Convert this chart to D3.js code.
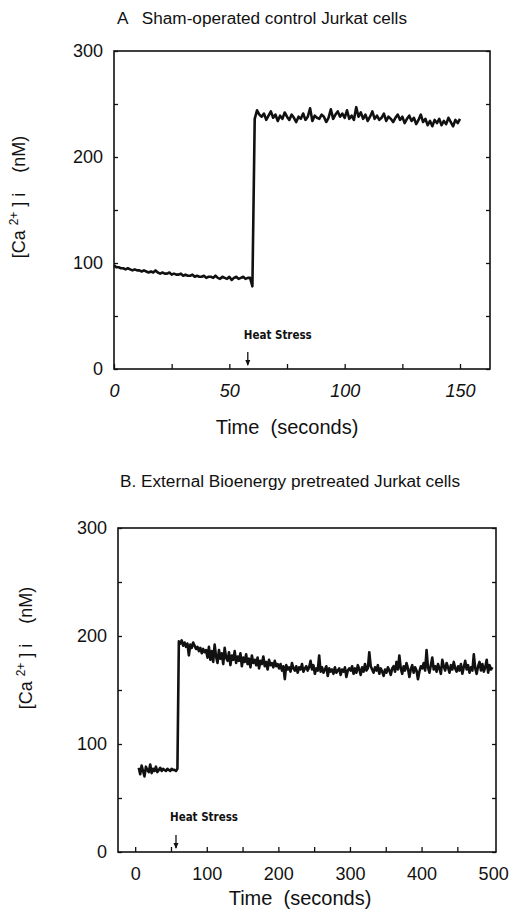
<!DOCTYPE html>
<html>
<head>
<meta charset="utf-8">
<script src="https://cdn.jsdelivr.net/npm/d3@7"></script>
<style>
  body { margin: 0; background: #fff; }
  svg { display: block; font-family: "Liberation Sans", Arial, sans-serif; }
  text { white-space: pre; }
</style>
</head>
<body>
<svg id="chart" width="514" height="924"></svg>
<script>
// Panel A: sham-operated control, sampled every 1 s from t = 0
const aStart = 0, aStep = 1;
const aValues = [
  98, 96, 96, 95, 95, 94, 95, 94, 93, 94, 93, 93, 92, 93, 92, 91, 92, 91, 93, 91,
  90, 91, 90, 90, 91, 89, 90, 89, 89, 90, 88, 89, 88, 88, 89, 87, 88, 87, 87, 88,
  86, 87, 87, 86, 88, 86, 85, 87, 86, 85, 87, 84, 86, 87, 85, 86, 87, 85, 86, 86, 78,
  236, 244, 240, 238, 241, 235, 239, 243, 237, 240,
  234, 239, 236, 242, 238, 235, 240, 237, 233, 238,
  236, 241, 235, 238, 246, 234, 239, 237, 236, 240,
  238, 233, 237, 245, 236, 240, 243, 238, 241, 237,
  244, 236, 239, 235, 247, 238, 242, 236, 240, 234,
  238, 243, 236, 239, 235, 237, 241, 234, 238, 236,
  233, 237, 240, 235, 238, 232, 236, 239, 234, 237,
  231, 235, 240, 233, 236, 230, 234, 229, 235, 232,
  236, 230, 234, 231, 237, 233, 229, 235, 232, 236
];

// Panel B: External Bioenergy pretreated, sampled every 2 s from t = 5
const bStart = 5, bStep = 2;
const bValues = [
  78, 72, 80, 75, 70, 79, 76, 74, 81, 73, 77, 75, 79, 74, 76, 78, 75, 77, 76, 75,
  77, 76, 75, 77, 76, 76, 75, 77,
  195, 193, 196, 191, 194, 190, 193, 182, 192, 189, 194, 191, 188, 190, 186, 189, 184, 188, 185, 187,
  180, 190, 178, 186, 176, 192, 181, 175, 187, 179,
  184, 174, 189, 180, 177, 185, 173, 182, 178, 186,
  175, 181, 177, 184, 172, 180, 176, 183, 174, 179,
  171, 182, 175, 178, 173, 180, 170, 177, 174, 181,
  172, 176, 169, 178, 173, 175, 171, 177, 172, 174,
  170, 174, 168, 172, 160, 173, 169, 171, 167, 175,
  170, 168, 172, 166, 171, 169, 174, 167, 170, 172,
  168, 171, 177, 169, 173, 165, 170, 168, 182, 167,
  171, 166, 169, 172, 163, 170, 167, 169, 165, 171,
  166, 168, 170, 164, 169, 167, 171, 162, 168, 170,
  168, 172, 165, 170, 166, 173, 169, 164, 171, 167,
  174, 168, 170, 185, 172, 169, 166, 171, 168, 173,
  165, 170, 167, 163, 169, 166, 171, 168, 164, 170,
  172, 167, 176, 169, 182, 170, 165, 172, 168, 175,
  170, 162, 169, 173, 166, 171, 168, 160, 167, 172,
  170, 175, 168, 187, 171, 166, 173, 180, 169, 172,
  167, 174, 170, 165, 178, 172, 168, 175, 171, 166,
  173, 169, 176, 170, 167, 172, 168, 174, 165, 171,
  177, 169, 173, 166, 171, 168, 183, 170, 165, 172,
  176, 168, 174, 167, 171, 178, 166, 173, 169, 171
];

const yLabelTicks = [0, 100, 200, 300];
const yMinorTicks = [0, 50, 100, 150, 200, 250, 300];
const aXLabelTicks = [0, 50, 100, 150];
const aXMinorTicks = [0, 25, 50, 75, 100, 125, 150];
const bXLabelTicks = [0, 100, 200, 300, 400, 500];
const bXMinorTicks = [0, 50, 100, 150, 200, 250, 300, 350, 400, 450];

const panels = [
  {
    title: "A   Sham-operated control Jurkat cells", titleLen: 290,
    titleX: 117, titleY: 24,
    values: aValues, start: aStart, step: aStep,
    xDomain: [0, 163], xRange: [114, 490], yRange: [369, 51],
    xLabels: aXLabelTicks, xMinor: aXMinorTicks, italic: true,
    heat: 58, heatLabelDx: -4, heatLabelY: 339,
    yTitleX: 25, yTitleY: 197, xTitleX: 287, xTitleY: 434
  },
  {
    title: "B. External Bioenergy pretreated Jurkat cells", titleLen: 340,
    titleX: 120, titleY: 487,
    values: bValues, start: bStart, step: bStep,
    xDomain: [-24, 504], xRange: [118, 496], yRange: [852, 528],
    xLabels: bXLabelTicks, xMinor: bXMinorTicks, italic: false,
    heat: 57, heatLabelDx: -6, heatLabelY: 821,
    yTitleX: 32, yTitleY: 648, xTitleX: 300, xTitleY: 905
  }
];

const svg = d3.select("#chart");

panels.forEach(p => {
  const x = d3.scaleLinear().domain(p.xDomain).range(p.xRange);
  const y = d3.scaleLinear().domain([0, 300]).range(p.yRange);
  const g = svg.append("g");
  const [x0, x1] = p.xRange;
  const [y0, y1] = p.yRange;

  g.append("text")
    .attr("x", p.titleX).attr("y", p.titleY)
    .attr("font-size", 16).attr("fill", "#111")
    .attr("textLength", p.titleLen).attr("lengthAdjust", "spacingAndGlyphs")
    .text(p.title);

  // frame
  g.append("rect")
    .attr("x", x0).attr("y", y1)
    .attr("width", x1 - x0).attr("height", y0 - y1)
    .attr("fill", "none").attr("stroke", "#111").attr("stroke-width", 1.6);

  // inward ticks
  g.append("g").attr("transform", `translate(${x0},0)`)
    .call(d3.axisLeft(y).tickValues(yMinorTicks).tickSize(-4).tickFormat(""))
    .call(s => s.select(".domain").remove());
  g.append("g").attr("transform", `translate(${x1},0)`)
    .call(d3.axisRight(y).tickValues(yMinorTicks).tickSize(-4).tickFormat(""))
    .call(s => s.select(".domain").remove());
  g.append("g").attr("transform", `translate(0,${y0})`)
    .call(d3.axisBottom(x).tickValues(p.xMinor).tickSize(-5).tickFormat(""))
    .call(s => s.select(".domain").remove());
  g.selectAll(".tick line").attr("stroke", "#111").attr("stroke-width", 1.3);

  // labels
  g.append("g").attr("transform", `translate(${x0 - 11},0)`)
    .call(d3.axisLeft(y).tickValues(yLabelTicks).tickSize(0).tickPadding(0))
    .call(s => s.select(".domain").remove())
    .selectAll("text")
    .attr("font-size", 18).attr("fill", "#111")
    .attr("font-family", "Liberation Sans, Arial, sans-serif");

  g.append("g").attr("transform", `translate(0,${y0 + 15})`)
    .call(d3.axisBottom(x).tickValues(p.xLabels).tickSize(0).tickPadding(0))
    .call(s => s.select(".domain").remove())
    .selectAll("text")
    .attr("font-size", 18).attr("fill", "#111")
    .attr("font-style", p.italic ? "italic" : "normal")
    .attr("font-family", "Liberation Sans, Arial, sans-serif");

  // trace
  const line = d3.line()
    .x((d, i) => x(p.start + i * p.step))
    .y(d => y(d));
  g.append("path")
    .datum(p.values)
    .attr("d", line)
    .attr("fill", "none")
    .attr("stroke", "#111")
    .attr("stroke-width", 2.6)
    .attr("stroke-linejoin", "round");

  // heat stress marker
  const hx = x(p.heat);
  g.append("text")
    .attr("x", hx + p.heatLabelDx).attr("y", p.heatLabelY)
    .attr("font-size", 12).attr("font-weight", "bold")
    .attr("font-family", "Liberation Sans Narrow, DejaVu Sans Condensed, sans-serif")
    .attr("fill", "#111")
    .attr("textLength", 68).attr("lengthAdjust", "spacingAndGlyphs")
    .text("Heat Stress");
  g.append("line")
    .attr("x1", hx).attr("x2", hx)
    .attr("y1", y0 - 17).attr("y2", y0 - 4)
    .attr("stroke", "#111").attr("stroke-width", 1.3);
  g.append("path")
    .attr("d", `M${hx - 2.5},${y0 - 9}L${hx + 2.5},${y0 - 9}L${hx},${y0 - 3}Z`)
    .attr("fill", "#111");

  // axis titles
  const yt = g.append("text")
    .attr("transform", `translate(${p.yTitleX},${p.yTitleY}) rotate(-90)`)
    .attr("text-anchor", "middle")
    .attr("font-size", 18).attr("fill", "#111");
  yt.append("tspan").text("[Ca ");
  yt.append("tspan").attr("font-size", 12).attr("dy", -7).text("2+");
  yt.append("tspan").attr("dy", 7).text(" ] i    (nM)");

  g.append("text")
    .attr("x", p.xTitleX).attr("y", p.xTitleY)
    .attr("text-anchor", "middle")
    .attr("font-size", 20).attr("fill", "#111")
    .text("Time  (seconds)");
});
</script>
</body>
</html>
